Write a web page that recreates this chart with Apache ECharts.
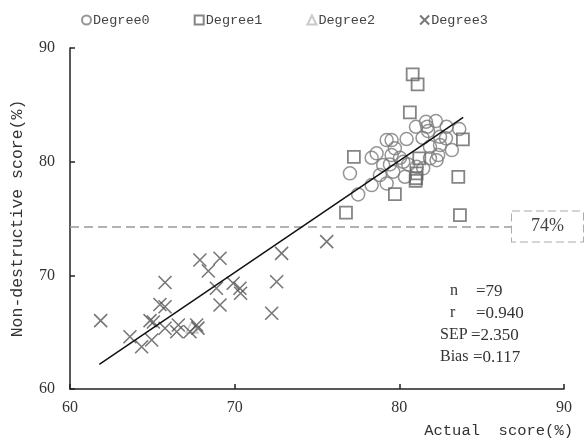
<!DOCTYPE html>
<html><head><meta charset="utf-8">
<script src="https://cdn.jsdelivr.net/npm/echarts@6/dist/echarts.min.js"></script>
<style>html,body{margin:0;padding:0;background:#fff}#c{width:587px;height:442px}</style>
</head><body><div id="c"></div>
<script>
const seriesNames = ['Degree0', 'Degree1', 'Degree2', 'Degree3'];
const degree0 = [
  [81.62,83.51],[81.69,83.07],[81.01,83.07],[81.75,82.69],[82.87,83.07],[83.64,82.87],
  [81.41,82.10],[82.47,82.19],[82.83,82.05],[79.23,81.90],[79.53,81.90],[80.44,81.99],
  [81.86,81.31],[82.47,81.46],[79.73,81.17],[78.62,80.73],[78.32,80.34],[79.53,80.58],
  [80.04,80.34],[82.36,80.58],[81.86,80.29],[80.24,79.99],[79.43,79.76],[79.02,79.70],
  [80.54,79.76],[81.05,79.55],[77.00,78.97],[78.82,78.82],[79.63,79.11],[80.34,78.67],
  [81.45,79.41],[79.23,78.09],[78.32,77.94],[77.50,77.12],[82.26,80.13],[83.19,81.02],
  [82.22,83.57]
];
const degree1 = [
  [80.81,87.68],[81.11,86.80],[80.64,84.34],[77.24,80.43],[83.86,81.96],[81.21,80.29],
  [81.05,78.97],[80.99,78.32],[81.02,78.55],[83.58,78.67],[79.73,77.15],[76.76,75.51],[83.68,75.30]
];
const degree2 = [[67.41,65.45]];
const degree3 = [
  [61.86,66.01],[63.64,64.60],[64.35,63.72],[64.86,66.02],[65.06,65.89],[64.96,64.31],
  [65.46,67.43],[65.77,67.24],[65.77,69.37],[65.77,65.34],[66.58,65.63],[66.48,65.04],
  [67.29,65.04],[67.69,65.63],[67.77,65.36],[67.89,71.35],[68.40,70.38],[69.11,71.50],
  [68.89,68.86],[69.11,67.39],[69.91,69.30],[70.32,68.86],[70.36,68.42],[72.25,66.66],
  [72.55,69.44],[72.85,71.93],[75.59,72.96]
];
const fitLine = [[61.78,62.17],[83.88,83.90]];
const thresholdY = 74.3;
const thresholdEndX = 86.84;
const thresholdLabel = '74%';
const axisMin = 60, axisMax = 90, axisStep = 10;
const statLabels = ['n', 'r', 'SEP', 'Bias'];
const statValues = ['=79', '=0.940', '=2.350', '=0.117'];

const chart = echarts.init(document.getElementById('c'));
const mono = 'Liberation Mono';
const serif = 'Liberation Serif';
const statLeftX = [450, 450, 440, 440];
const statValX = [476, 476, 471, 473];
const statY = [292, 314, 336, 358];
const graphic = [];
statLabels.forEach((s, i) => {
  graphic.push({type:'text', left: statLeftX[i], top: statY[i]-9, style:{text:s, font:'16px '+serif, fill:'#333'}});
  graphic.push({type:'text', left: statValX[i], top: statY[i]-9, style:{text:statValues[i], font:'17px '+serif, fill:'#333'}});
});

const axisCommon = {
  min: axisMin, max: axisMax, interval: axisStep,
  splitLine: {show:false},
  axisLine: {lineStyle:{color:'#222', width:1.5}},
  axisTick: {inside:true, length:5, lineStyle:{color:'#222', width:1.5}},
  axisLabel: {fontFamily: serif, fontSize: 16, color:'#333'}
};

chart.setOption({
  animation: false,
  backgroundColor: '#fff',
  grid: {left:70, right:23, top:48, bottom:53, outerBoundsMode:'none', containLabel:false},
  legend: {
    data: seriesNames, padding: 0,
    left: 81, top: 13, itemWidth: 9, itemHeight: 9, itemGap: 44,
    textStyle: {fontFamily: mono, fontSize: 13.5, color:'#444', padding:[0,0,0,-3]}
  },
  xAxis: Object.assign({}, axisCommon, {
    type:'value',
    axisLabel: Object.assign({}, axisCommon.axisLabel, {margin: 11}),
    name: 'Actual  score(%)', nameLocation:'end', nameGap: 9,
    nameTextStyle: {fontFamily: mono, fontSize: 15.5, color:'#333', align:'right', verticalAlign:'top', padding:[34,0,0,0]}
  }),
  yAxis: Object.assign({}, axisCommon, {
    type:'value',
    axisLabel: Object.assign({}, axisCommon.axisLabel, {margin: 15}),
    name: 'Non-destructive score(%)', nameLocation:'middle', nameGap: 44,
    nameTextStyle: {fontFamily: mono, fontSize: 16.5, color:'#333'}
  }),
  graphic: graphic,
  series: [
    {name:'Degree0', type:'scatter', data: degree0, symbol:'circle', symbolSize:13,
     itemStyle:{color:'rgba(0,0,0,0)', borderColor:'#7a7a7a', borderWidth:1.5}},
    {name:'Degree1', type:'scatter', data: degree1, symbol:'rect', symbolSize:12,
     itemStyle:{color:'rgba(0,0,0,0)', borderColor:'#666', borderWidth:1.8}},
    {name:'Degree2', type:'scatter', data: degree2, symbol:'triangle', symbolSize:12,
     itemStyle:{color:'rgba(0,0,0,0)', borderColor:'#bbb', borderWidth:1.5}},
    {name:'Degree3', type:'scatter', data: degree3, symbol:'path://M0,0L10,10M10,0L0,10', symbolSize:13,
     itemStyle:{color:'rgba(0,0,0,0)', borderColor:'#555', borderWidth:1.6}},
    {name:'fit', type:'line', data: fitLine, symbol:'none', lineStyle:{color:'#111', width:1.5}, z:5,
     markLine:{silent:true, symbol:'none', animation:false,
       lineStyle:{type:[9,5], color:'#999', width:1.5},
       label:{show:true, position:'end', distance:0, formatter: thresholdLabel,
         fontFamily: serif, fontSize: 18, color:'#444', backgroundColor:'#fff',
         borderColor:'#aaa', borderWidth:1, borderType:'dashed', padding:[6,19,6,19]},
       data:[[{coord:[axisMin, thresholdY]}, {coord:[thresholdEndX, thresholdY]}]]
     }}
  ]
});
</script></body></html>
